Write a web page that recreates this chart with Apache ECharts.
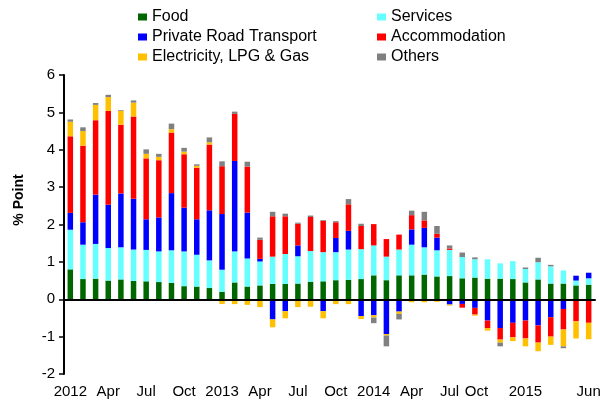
<!DOCTYPE html>
<html><head><meta charset="utf-8">
<script src="https://cdn.jsdelivr.net/npm/echarts@6/dist/echarts.min.js"></script>
<style>html,body{margin:0;padding:0;background:#fff}#c{width:613px;height:404px}</style>
</head><body><div id="c"></div>
<script>
var categories = ['Jan 2012','Feb 2012','Mar 2012','Apr 2012','May 2012','Jun 2012','Jul 2012','Aug 2012','Sep 2012','Oct 2012','Nov 2012','Dec 2012',
'Jan 2013','Feb 2013','Mar 2013','Apr 2013','May 2013','Jun 2013','Jul 2013','Aug 2013','Sep 2013','Oct 2013','Nov 2013','Dec 2013',
'Jan 2014','Feb 2014','Mar 2014','Apr 2014','May 2014','Jun 2014','Jul 2014','Aug 2014','Sep 2014','Oct 2014','Nov 2014','Dec 2014',
'Jan 2015','Feb 2015','Mar 2015','Apr 2015','May 2015','Jun 2015'];
var tickLabels = ['2012','','','Apr','','','Jul','','','Oct','','',
'2013','','','Apr','','','Jul','','','Oct','','',
'2014','','','Apr','','','Jul','','','Oct','','',
'2015','','','','','Jun'];
var food = [0.80,0.54,0.55,0.50,0.53,0.49,0.48,0.46,0.44,0.35,0.34,0.30,
0.20,0.45,0.34,0.37,0.41,0.41,0.42,0.47,0.48,0.51,0.52,0.54,
0.64,0.51,0.64,0.64,0.66,0.61,0.62,0.56,0.58,0.55,0.55,0.54,
0.45,0.53,0.42,0.42,0.37,0.39];
var services = [1.06,0.92,0.93,0.87,0.86,0.84,0.84,0.82,0.87,0.93,0.85,0.74,
0.59,0.83,0.75,0.64,0.73,0.80,0.73,0.82,0.78,0.75,0.81,0.80,
0.80,0.63,0.69,0.82,0.73,0.70,0.70,0.57,0.49,0.52,0.41,0.48,
0.36,0.46,0.46,0.35,0.13,0.17];
var transport = [0.45,0.60,1.32,1.16,1.44,1.36,0.82,0.91,1.53,1.17,0.95,1.34,
1.49,2.42,1.23,0.07,-0.54,-0.32,0.29,0,-0.32,0.38,0.50,-0.45,
-0.43,-0.93,-0.33,0.41,0.52,0.34,-0.14,-0.125,-0.23,-0.57,-0.77,-0.63,
-0.57,-0.70,-0.48,-0.26,0.13,0.15];
var accommodation = [2.05,2.05,1.99,2.51,1.84,2.20,1.63,1.53,1.62,1.43,1.38,1.76,
1.28,1.26,1.23,0.51,1.08,1.01,0.58,0.91,0.84,0.42,0.71,0.62,
0.57,0.47,0.40,0.38,0.20,0.10,0.04,-0.10,-0.18,-0.20,-0.31,-0.39,
-0.48,-0.46,-0.52,-0.55,-0.59,-0.63];
var electricity = [0.39,0.39,0.41,0.37,0.37,0.37,0.12,0.09,0.09,0.07,0.05,0.06,
-0.125,-0.13,-0.15,-0.21,-0.21,-0.19,-0.21,-0.20,-0.19,-0.13,-0.13,-0.08,
-0.06,-0.04,-0.06,-0.08,-0.08,-0.07,-0.03,0,-0.03,-0.07,-0.08,-0.10,
-0.21,-0.23,-0.22,-0.45,-0.46,-0.44];
var others = [0.06,0.10,0.05,0.06,0.02,0.06,0.12,0.08,0.15,0.10,0.04,0.13,
0.13,0.06,0.13,0.06,0.12,0.07,0.03,0.04,0.02,0.03,0.14,0.06,
-0.15,-0.29,-0.15,0.12,0.23,0.21,0.08,0.12,0.05,0,-0.10,0,
0.04,0.12,0.04,-0.05,0,0];

var FONT = '"Liberation Sans", Arial, sans-serif';
function bar(name, data, color, extra) {
  var s = {name: name, type: 'bar', stack: 'all', data: data, barWidth: 5.5,
    itemStyle: {color: color}, emphasis: {disabled: true}};
  if (extra) for (var k in extra) s[k] = extra[k];
  return s;
}
var chart = echarts.init(document.getElementById('c'), null, {renderer: 'canvas'});
chart.setOption({
  animation: false,
  textStyle: {fontFamily: FONT},
  grid: {left: 64, right: 18, top: 75, bottom: 30, containLabel: false},
  legend: [
    {data: ['Food', 'Private Road Transport', 'Electricity, LPG & Gas'], orient: 'vertical',
     left: 133, top: 4, itemWidth: 9, itemHeight: 7, itemGap: 4, icon: 'rect',
     textStyle: {fontSize: 16, color: '#000', fontFamily: FONT}},
    {data: ['Services', 'Accommodation', 'Others'], orient: 'vertical',
     left: 372, top: 4, itemWidth: 9, itemHeight: 7, itemGap: 4, icon: 'rect',
     textStyle: {fontSize: 16, color: '#000', fontFamily: FONT}}
  ],
  xAxis: {
    type: 'category', data: categories,
    axisLine: {lineStyle: {color: '#000', width: 2}},
    axisTick: {inside: true, length: 4, lineStyle: {color: '#000', width: 1.5}},
    axisLabel: {interval: 0, margin: 10, fontSize: 15, color: '#000', fontFamily: FONT,
      rich: {sh: {fontSize: 15, color: '#000', fontFamily: FONT, padding: [0, 22, 0, 0]}},
      formatter: function (v, i) { return i === 33 ? '{sh|' + tickLabels[i] + '}' : tickLabels[i]; }},
    splitLine: {show: false}
  },
  yAxis: {
    type: 'value', min: -2, max: 6, interval: 1,
    axisLine: {show: true, lineStyle: {color: '#000', width: 2}},
    axisTick: {show: true, length: 5, lineStyle: {color: '#000', width: 1.5}},
    axisLabel: {margin: 9, fontSize: 15, color: '#000', fontFamily: FONT},
    splitLine: {show: false}
  },
  graphic: [{type: 'text', x: 19, y: 200, rotation: Math.PI / 2,
    style: {text: '% Point', font: 'bold 14px ' + FONT, fill: '#000', align: 'center', verticalAlign: 'middle'}}],
  series: [
    bar('Food', food, '#006600', {markLine: {silent: true, symbol: 'none', label: {show: false},
      lineStyle: {color: '#000', width: 2, type: 'solid'}, data: [{yAxis: 0}]}}),
    bar('Services', services, '#66FFFF'),
    bar('Private Road Transport', transport, '#0000FF'),
    bar('Accommodation', accommodation, '#FF0000'),
    bar('Electricity, LPG & Gas', electricity, '#FFC000'),
    bar('Others', others, '#808080')
  ]
});
</script></body></html>
